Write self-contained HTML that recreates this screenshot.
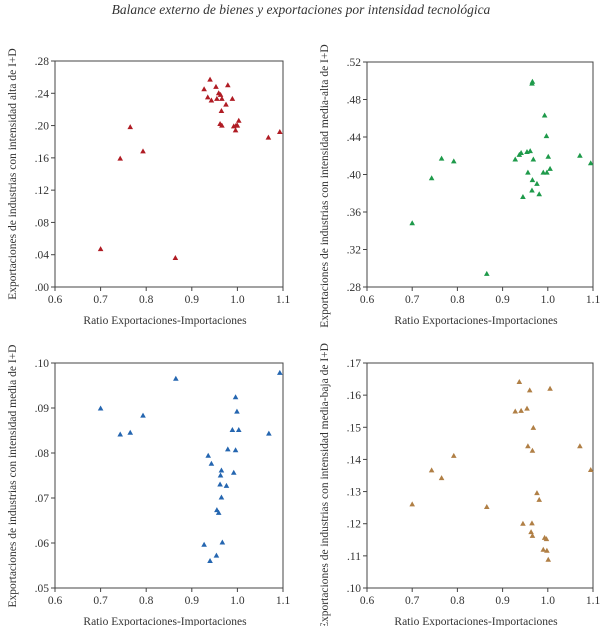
<!DOCTYPE html>
<html><head><meta charset="utf-8">
<style>
body{margin:0;background:#fff;}
svg{display:block;font-family:"Liberation Serif",serif;}
</style></head>
<body>
<svg id="c" width="602" height="626">
<text x="301" y="14" text-anchor="middle" font-style="italic" font-size="13.5" fill="#333">Balance externo de bienes y exportaciones por intensidad tecnológica</text>
</svg>
<script>
const xTicks=[0.6,0.7,0.8,0.9,1.0,1.1];
const xTickLabels=["0.6","0.7","0.8","0.9","1.0","1.1"];
const altaX=[0.927,0.940,0.953,0.979,0.935,0.943,0.955,0.959,0.963,0.966,0.989,0.975,0.965,0.962,0.966,0.992,0.997,0.996,1.003,1.000,1.068,1.093,0.765,0.743,0.793,0.700,0.864];
const altaY=[0.245,0.257,0.248,0.250,0.235,0.231,0.233,0.240,0.238,0.233,0.233,0.226,0.218,0.202,0.200,0.199,0.200,0.194,0.206,0.200,0.185,0.192,0.198,0.159,0.168,0.047,0.036];
const altaTicks=[0,0.04,0.08,0.12,0.16,0.20,0.24,0.28];
const altaTickLabels=[".00",".04",".08",".12",".16",".20",".24",".28"];
const mediaAltaX=[0.965,0.966,0.993,0.997,0.928,0.937,0.941,0.954,0.961,0.968,1.001,1.071,1.095,0.956,0.990,0.998,1.005,0.966,0.976,0.965,0.945,0.981,0.765,0.792,0.743,0.700,0.865];
const mediaAltaY=[0.497,0.499,0.463,0.441,0.416,0.421,0.423,0.424,0.425,0.416,0.419,0.420,0.412,0.402,0.402,0.402,0.406,0.394,0.390,0.383,0.376,0.379,0.417,0.414,0.396,0.348,0.294];
const mediaAltaTicks=[0.28,0.32,0.36,0.40,0.44,0.48,0.52];
const mediaAltaTickLabels=[".28",".32",".36",".40",".44",".48",".52"];
const mediaX=[0.865,1.093,0.996,0.999,0.989,1.003,1.069,0.979,0.996,0.936,0.943,0.965,0.963,0.992,0.962,0.976,0.965,0.955,0.959,0.927,0.967,0.954,0.940,0.700,0.743,0.765,0.793];
const mediaY=[0.0965,0.0978,0.0924,0.0892,0.0851,0.0851,0.0843,0.0808,0.0806,0.0794,0.0776,0.0761,0.0750,0.0756,0.0730,0.0727,0.0701,0.0673,0.0667,0.0596,0.0601,0.0572,0.0560,0.0899,0.0841,0.0845,0.0883];
const mediaTicks=[0.05,0.06,0.07,0.08,0.09,0.10];
const mediaTickLabels=[".05",".06",".07",".08",".09",".10"];
const mediaBajaX=[0.937,0.960,1.005,0.928,0.941,0.954,0.968,0.956,0.966,1.071,1.095,0.976,0.981,0.945,0.965,0.963,0.966,0.993,0.997,0.990,0.998,1.001,0.700,0.743,0.765,0.792,0.865];
const mediaBajaY=[0.1641,0.1615,0.1620,0.1549,0.1551,0.1558,0.1498,0.1441,0.1427,0.1441,0.1367,0.1295,0.1274,0.1200,0.1201,0.1174,0.1162,0.1156,0.1152,0.1119,0.1116,0.1088,0.1260,0.1366,0.1342,0.1411,0.1252];
const mediaBajaTicks=[0.10,0.11,0.12,0.13,0.14,0.15,0.16,0.17];
const mediaBajaTickLabels=[".10",".11",".12",".13",".14",".15",".16",".17"];

const NS="http://www.w3.org/2000/svg";
const svg=document.getElementById('c');
function mk(tag,attrs,parent){const e=document.createElementNS(NS,tag);for(const k in attrs)e.setAttribute(k,attrs[k]);(parent||svg).appendChild(e);return e;}
const panels=[
 {id:'alta',L:55,R:283,T:61,B:287,xs:altaX,ys:altaY,yt:altaTicks,ytl:altaTickLabels,col:'#b01c24',title:'Exportaciones de industrias con intensidad alta de I+D',tx:12,cy:174},
 {id:'media-alta',L:367,R:593,T:62,B:287,xs:mediaAltaX,ys:mediaAltaY,yt:mediaAltaTicks,ytl:mediaAltaTickLabels,col:'#1e9a4a',title:'Exportaciones de industrias con intensidad media-alta de I+D',tx:324,cy:186},
 {id:'media',L:55,R:283,T:363,B:588,xs:mediaX,ys:mediaY,yt:mediaTicks,ytl:mediaTickLabels,col:'#2566b0',title:'Exportaciones de industrias con intensidad media de I+D',tx:12,cy:476},
 {id:'media-baja',L:367,R:593,T:363,B:588,xs:mediaBajaX,ys:mediaBajaY,yt:mediaBajaTicks,ytl:mediaBajaTickLabels,col:'#b07f45',title:'Exportaciones de industrias con intensidad media-baja de I+D',tx:324,cy:486}
];
panels.forEach(p=>{
 const g=mk('g',{});
 
 
 const x0=xTicks[0],x1=xTicks[xTicks.length-1],y0=p.yt[0],y1=p.yt[p.yt.length-1];
 const sx=v=>p.L+(v-x0)/(x1-x0)*(p.R-p.L);
 const sy=v=>p.B-(v-y0)/(y1-y0)*(p.B-p.T);
 const fr=mk('rect',{x:p.L,y:p.T,width:p.R-p.L,height:p.B-p.T,fill:'none',stroke:'#444','stroke-width':1},g);
 
 
 xTicks.forEach((t,i)=>{
  mk('line',{x1:sx(t),x2:sx(t),y1:p.B,y2:p.B+4,stroke:'#444'},g);
  const tl=mk('text',{x:sx(t),y:p.B+16,'text-anchor':'middle','font-size':11.5,fill:'#333'},g);
  tl.textContent=xTickLabels[i];
  
  
 });
 p.yt.forEach((t,i)=>{
  mk('line',{x1:p.L-4,x2:p.L,y1:sy(t),y2:sy(t),stroke:'#444'},g);
  const tl=mk('text',{x:p.L-6,y:sy(t)+4,'text-anchor':'end','font-size':11.5,fill:'#333'},g);
  tl.textContent=p.ytl[i];
  
  
 });
 const xt=mk('text',{x:(p.L+p.R)/2-4,y:p.B+37,'text-anchor':'middle','font-size':11.5,fill:'#333'},g);
 xt.textContent='Ratio Exportaciones-Importaciones';
 
 
 const cy=p.cy;
 const yt=mk('text',{x:p.tx,y:cy,'text-anchor':'middle','font-size':11.5,fill:'#333',transform:`rotate(-90 ${p.tx} ${cy})`,dy:'0.35em'},g);
 yt.textContent=p.title;
 
 
 p.xs.forEach((v,i)=>{
  const cx=sx(v),cyy=sy(p.ys[i]);
  const m=mk('polygon',{points:`${cx},${cyy-3} ${cx-2.8},${cyy+2} ${cx+2.8},${cyy+2}`,fill:p.col},g);
  
  
 });
});
</script>
</body></html>
